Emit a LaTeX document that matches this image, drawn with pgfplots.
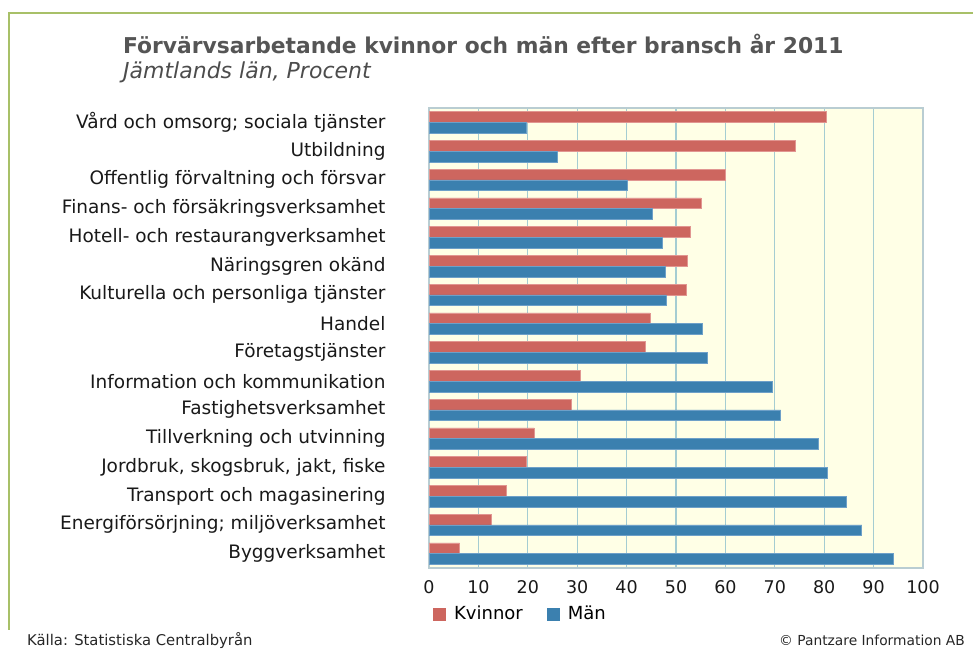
\documentclass[border=0pt]{standalone}
\usepackage{fontspec}
\setmainfont{DejaVu Sans}
\usepackage{pgfplots}
\pgfplotsset{compat=1.18}
\definecolor{kv}{RGB}{205,102,95}
\definecolor{kvedge}{RGB}{225,150,145}
\definecolor{ma}{RGB}{59,128,175}
\definecolor{maedge}{RGB}{110,160,200}
\definecolor{framec}{RGB}{168,192,104}
\definecolor{bgc}{RGB}{255,255,230}
\definecolor{gridc}{RGB}{165,205,210}
\definecolor{axc}{RGB}{185,205,210}
\definecolor{titlec}{RGB}{85,85,85}
\begin{document}
\begin{tikzpicture}[x=1bp,y=1bp]
\path[use as bounding box] (0,0) rectangle (973,649);
\draw[framec, line width=2.2bp] (9,19) -- (9,636) -- (973,636);
\node[anchor=west, inner sep=0pt, text=titlec, font=\fontsize{21.8bp}{25bp}\selectfont\bfseries] at (123,605) {Förvärvsarbetande kvinnor och män efter bransch år 2011};
\node[anchor=west, inner sep=0pt, text=titlec!90!black, font=\fontsize{22bp}{25bp}\selectfont\itshape] at (123,577) {Jämtlands län, Procent};
\node[anchor=base west, inner sep=0pt, text=black!85, font=\fontsize{14.8bp}{17bp}\selectfont] at (27,3) {Källa: Statistiska Centralbyrån};
\node[anchor=base east, inner sep=0pt, text=black!85, font=\fontsize{13.8bp}{16bp}\selectfont] at (965,3) {© Pantzare Information AB};
\begin{axis}[
  at={(429bp,81bp)}, anchor=south west,
  scale only axis, width=494bp, height=460bp,
  xbar, bar width=10.7bp,
  xmin=0, xmax=100, ymin=-0.5, ymax=15.5,
  y dir=reverse,
  ytick={0,...,15},
  yticklabels={{Vård och omsorg; sociala tjänster},{Utbildning},{Offentlig förvaltning och försvar},{Finans- och försäkringsverksamhet},{Hotell- och restaurangverksamhet},{Näringsgren okänd},{Kulturella och personliga tjänster},{Handel},{Företagstjänster},{Information och kommunikation},{Fastighetsverksamhet},{Tillverkning och utvinning},{Jordbruk, skogsbruk, jakt, fiske},{Transport och magasinering},{Energiförsörjning; miljöverksamhet},{Byggverksamhet}},
  xtick={0,10,...,100},
  major tick length=0pt,
  xmajorgrids, grid style={gridc, line width=1.3bp},
  axis line style={axc, line width=1.2bp},
  axis background/.style={fill=bgc},
  /pgf/number format/assume math mode=true,
  xticklabel style={font=\fontsize{17.5bp}{20bp}\selectfont, text=black!90, yshift=-9bp},
  yticklabel style={font=\fontsize{18.5bp}{21bp}\selectfont, text=black!90, xshift=-40bp},
  legend style={at={(0.008,-0.102)}, anchor=west, draw=none, fill=none, legend columns=2,
    font=\fontsize{18bp}{21bp}\selectfont, inner sep=0pt,
    nodes={text height=13bp, text depth=3bp},
    /tikz/every odd column/.append style={column sep=6bp},
    /tikz/every even column/.append style={column sep=22bp}},
  legend image code/.code={\fill[#1, draw=none] (0bp,-6.5bp) rectangle (13bp,6.5bp);},
  clip=false,
]
\addplot[fill=kv, draw=kvedge, line width=0.6bp, bar shift=5.35bp] coordinates {
(80.4,0) (74.1,1) (60.0,2) (55.1,3) (52.9,4) (52.3,5) (52.1,6) (44.7,7) (43.8,8) (30.7,9) (28.9,10) (21.3,11) (19.6,12) (15.6,13) (12.6,14) (6.2,15)};
\addplot[fill=ma, draw=maedge, line width=0.6bp, bar shift=-5.35bp] coordinates {
(19.6,0) (26.0,1) (40.1,2) (45.1,3) (47.2,4) (47.8,5) (48.0,6) (55.4,7) (56.3,8) (69.4,9) (71.2,10) (78.9,11) (80.6,12) (84.4,13) (87.6,14) (93.9,15)};
\legend{Kvinnor, Män}
\end{axis}
\end{tikzpicture}
\end{document}
